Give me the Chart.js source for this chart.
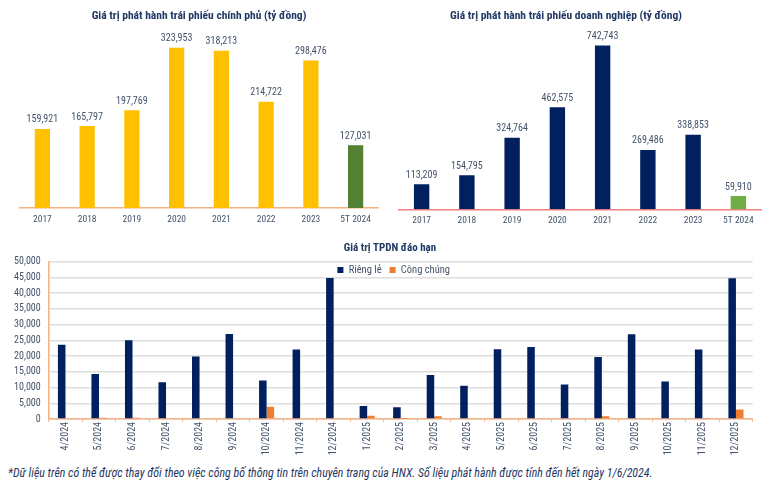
<!DOCTYPE html>
<html><head><meta charset="utf-8">
<script src="https://cdn.jsdelivr.net/npm/chart.js@4.4.1/dist/chart.umd.min.js"></script>
<style>
html,body{margin:0;padding:0;background:#fff;}
body{width:780px;height:485px;position:relative;overflow:hidden;font-family:"Liberation Sans Narrow","Roboto Condensed",Roboto,sans-serif;}
.box{position:absolute;}
#note{position:absolute;left:8px;top:466px;font-style:italic;font-size:11.9px;color:#1f3864;white-space:nowrap;}
</style></head><body>
<div class="box" style="left:0;top:0;width:390px;height:230px"><canvas id="c1"></canvas></div>
<div class="box" style="left:371px;top:0;width:409px;height:230px"><canvas id="c2"></canvas></div>
<div class="box" style="left:0;top:230px;width:780px;height:232px"><canvas id="c3"></canvas></div>
<div id="note">*Dữ liệu trên có thể được thay đổi theo việc công bố thông tin trên chuyên trang của HNX. Số liệu phát hành được tính đến hết ngày 1/6/2024.</div>
<script>
const FONT = '"Liberation Sans Narrow", "Roboto Condensed", Roboto, sans-serif';

const years = ['2017', '2018', '2019', '2020', '2021', '2022', '2023', '5T 2024'];
const govIssuance = [159921, 165797, 197769, 323953, 318213, 214722, 298476, 127031];
const corpIssuance = [113209, 154795, 324764, 462575, 742743, 269486, 338853, 59910];

const maturityMonths = ['4/2024', '5/2024', '6/2024', '7/2024', '8/2024', '9/2024', '10/2024', '11/2024', '12/2024',
  '1/2025', '2/2025', '3/2025', '4/2025', '5/2025', '6/2025', '7/2025', '8/2025', '9/2025', '10/2025', '11/2025', '12/2025'];
const privateMaturity = [23600, 14300, 25000, 11700, 19900, 27000, 12200, 22100, 44800,
  4100, 3700, 14000, 10600, 22200, 22900, 11000, 19700, 26900, 11900, 22100, 44700];
const publicMaturity = [0, 400, 400, 0, 0, 0, 3900, 0, 0,
  1000, 100, 900, 0, 0, 0, 0, 900, 0, 0, 300, 3000];

Chart.defaults.font.family = FONT;
Chart.defaults.animation = false;

const valueLabels = {
  id: 'valueLabels',
  afterDatasetsDraw(chart) {
    const ctx = chart.ctx;
    const meta = chart.getDatasetMeta(0);
    const data = chart.data.datasets[0].data;
    ctx.save();
    ctx.font = '10px ' + FONT;
    ctx.fillStyle = '#44546a';
    ctx.textAlign = 'center';
    ctx.textBaseline = 'bottom';
    meta.data.forEach((bar, i) => {
      ctx.fillText(data[i].toLocaleString('en-US'), bar.x, bar.y - 4);
    });
    ctx.restore();
  }
};

// legend laid out in one row inside the plot area, near its top
const innerLegend = {
  id: 'innerLegend',
  afterInit(chart) {
    if (chart.legend) chart.legend.isHorizontal = () => true;
  },
  afterLayout(chart) {
    const lg = chart.legend;
    if (!lg) return;
    const ca = chart.chartArea;
    const w = lg.width, h = lg.height;
    lg.left = ca.left - 7; lg.right = lg.left + w;
    lg.top = ca.top - 5; lg.bottom = lg.top + h;
  }
};

function topChart(id, data, colors, max, baseColor, title, titlePadBottom, axisH, leftW, padL, padR) {
  return new Chart(document.getElementById(id), {
    type: 'bar',
    data: { labels: years, datasets: [{ data: data, backgroundColor: colors, categoryPercentage: 1, barPercentage: 0.34 }] },
    plugins: [valueLabels],
    options: {
      responsive: true, maintainAspectRatio: false,
      layout: { padding: { left: padL, right: padR, top: 0, bottom: 0 } },
      plugins: {
        legend: { display: false }, tooltip: { enabled: false },
        title: { display: true, text: title, color: '#1f3864', font: { size: 11.5, weight: 'bold' }, padding: { top: 9, bottom: titlePadBottom } }
      },
      scales: {
        x: {
          grid: { display: false, drawTicks: false },
          border: { color: baseColor, width: 1.5 },
          ticks: { color: '#44546a', font: { size: 9.5 }, padding: 6, maxRotation: 0 },
          afterFit: s => { s.height = axisH; }
        },
        y: {
          min: 0, max: max, display: leftW > 0,
          ticks: { display: false }, grid: { display: false, drawTicks: false }, border: { display: false },
          afterFit: s => { s.width = leftW; }
        }
      }
    }
  });
}

topChart('c1', govIssuance, ['#ffc000', '#ffc000', '#ffc000', '#ffc000', '#ffc000', '#ffc000', '#ffc000', '#548235'],
  350000, '#f4b183', 'Giá trị phát hành trái phiếu chính phủ (tỷ đồng)', 12.2, 22, 0, 20, 12);
topChart('c2', corpIssuance, ['#002060', '#002060', '#002060', '#002060', '#002060', '#002060', '#002060', '#70ad47'],
  800000, '#f08080', 'Giá trị phát hành trái phiếu doanh nghiệp (tỷ đồng)', 10.2, 20.7, 28, 0, 19);

new Chart(document.getElementById('c3'), {
  type: 'bar',
  data: {
    labels: maturityMonths,
    datasets: [
      { label: 'Riêng lẻ', data: privateMaturity, backgroundColor: '#002060', categoryPercentage: 0.45, barPercentage: 1 },
      { label: 'Công chúng', data: publicMaturity, backgroundColor: '#ed7d31', categoryPercentage: 0.45, barPercentage: 1 }
    ]
  },
  plugins: [innerLegend],
  options: {
    responsive: true, maintainAspectRatio: false,
    layout: { padding: 0 },
    plugins: {
      tooltip: { enabled: false },
      title: { display: true, text: 'Giá trị TPDN đáo hạn', color: '#1f3864', font: { size: 11, weight: 'bold' }, padding: { top: 11.7, bottom: 6.8 } },
      legend: {
        position: 'chartArea', align: 'center',
        labels: { boxWidth: 6, boxHeight: 6, padding: 8, color: '#44546a', font: { size: 10.5 } }
      }
    },
    scales: {
      x: {
        grid: { offset: true, drawOnChartArea: false, drawTicks: true, tickLength: 3, color: '#f4b183', lineWidth: 1 },
        border: { color: '#f4b183', width: 1.5 },
        ticks: { color: '#44546a', font: { size: 10 }, padding: 0, minRotation: 90, maxRotation: 90, autoSkip: false },
        afterFit: s => { s.height = 43; }
      },
      y: {
        min: 0, max: 50000,
        grid: { color: '#dedede', lineWidth: 1.5, drawTicks: false },
        border: { color: '#f4b183', width: 1.5 },
        ticks: { stepSize: 5000, color: '#44546a', font: { size: 10 }, padding: 8, callback: v => v.toLocaleString('en-US') },
        afterFit: s => { s.width = 48.7; }
      },
      y2: {
        position: 'right', display: true,
        ticks: { display: false }, grid: { display: false, drawTicks: false }, border: { display: false },
        afterFit: s => { s.width = 27.3; }
      }
    }
  }
});
</script>
</body></html>
